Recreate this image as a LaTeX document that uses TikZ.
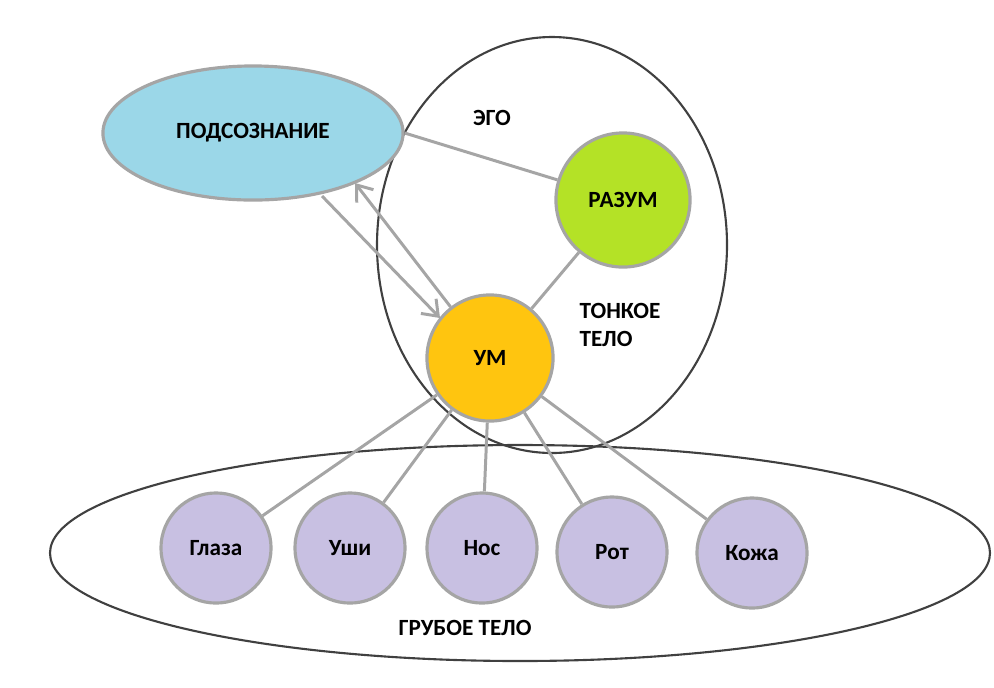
\documentclass[tikz,border=0pt]{standalone}
\usepackage{fontspec}
\setmainfont{Carlito}
\usetikzlibrary{arrows.meta,shapes.geometric}
\definecolor{linegray}{RGB}{165,165,165}
\definecolor{subblue}{RGB}{155,215,232}
\definecolor{mindgreen}{RGB}{180,226,38}
\definecolor{umyellow}{RGB}{255,197,15}
\definecolor{senselilac}{RGB}{200,192,226}
\begin{document}
\begin{tikzpicture}[x=0.01cm,y=-0.01cm,
  every node/.style={font=\fontsize{6.6}{7.8}\selectfont\bfseries},
  blob/.style={circle,draw=linegray,line width=0.9pt,minimum size=#1*0.02cm,inner sep=0pt},
  link/.style={draw=linegray,line width=0.85pt},
  >={Straight Barb[length=4pt,width=6pt]}]
\useasboundingbox (0,0) rectangle (994,687);

% bodies
\draw[line width=0.6pt,black!75] (552,245) ellipse [x radius=175,y radius=208];
\draw[line width=0.6pt,black!75] (520,553) ellipse [x radius=470,y radius=108];
\node at (492,118) {ЭГО};
\node[align=left] at (620,325) {ТОНКОЕ\\ТЕЛО};
\node at (465,628) {ГРУБОЕ ТЕЛО};

% nodes
\node[ellipse,draw=linegray,line width=0.9pt,fill=subblue,minimum width=3cm,minimum height=1.34cm] (sub) at (253,133) {ПОДСОЗНАНИЕ};
\node[blob=67,fill=mindgreen] (razum) at (623,200) {РАЗУМ};
\node[blob=63,fill=umyellow] (um) at (490,358) {УМ};
\foreach \n/\x/\y in {Глаза/216/548,Уши/350/548,Нос/482/548,Рот/612/552,Кожа/752/553}
  \node[blob=55,fill=senselilac] (\n) at (\x,\y) {\n};

% arrow ends
\coordinate (toum) at (440,318);
\coordinate (tosub) at (355,183);

% links
\path[link] (sub.east) -- (razum);
\path[link] (razum) -- (um);
\draw[link,->] (322,196) -- (toum);
\draw[link,->] (um) -- (tosub);
\foreach \n in {Глаза,Уши,Нос,Рот,Кожа}
  \path[link] (um) -- (\n);
\end{tikzpicture}
\end{document}
